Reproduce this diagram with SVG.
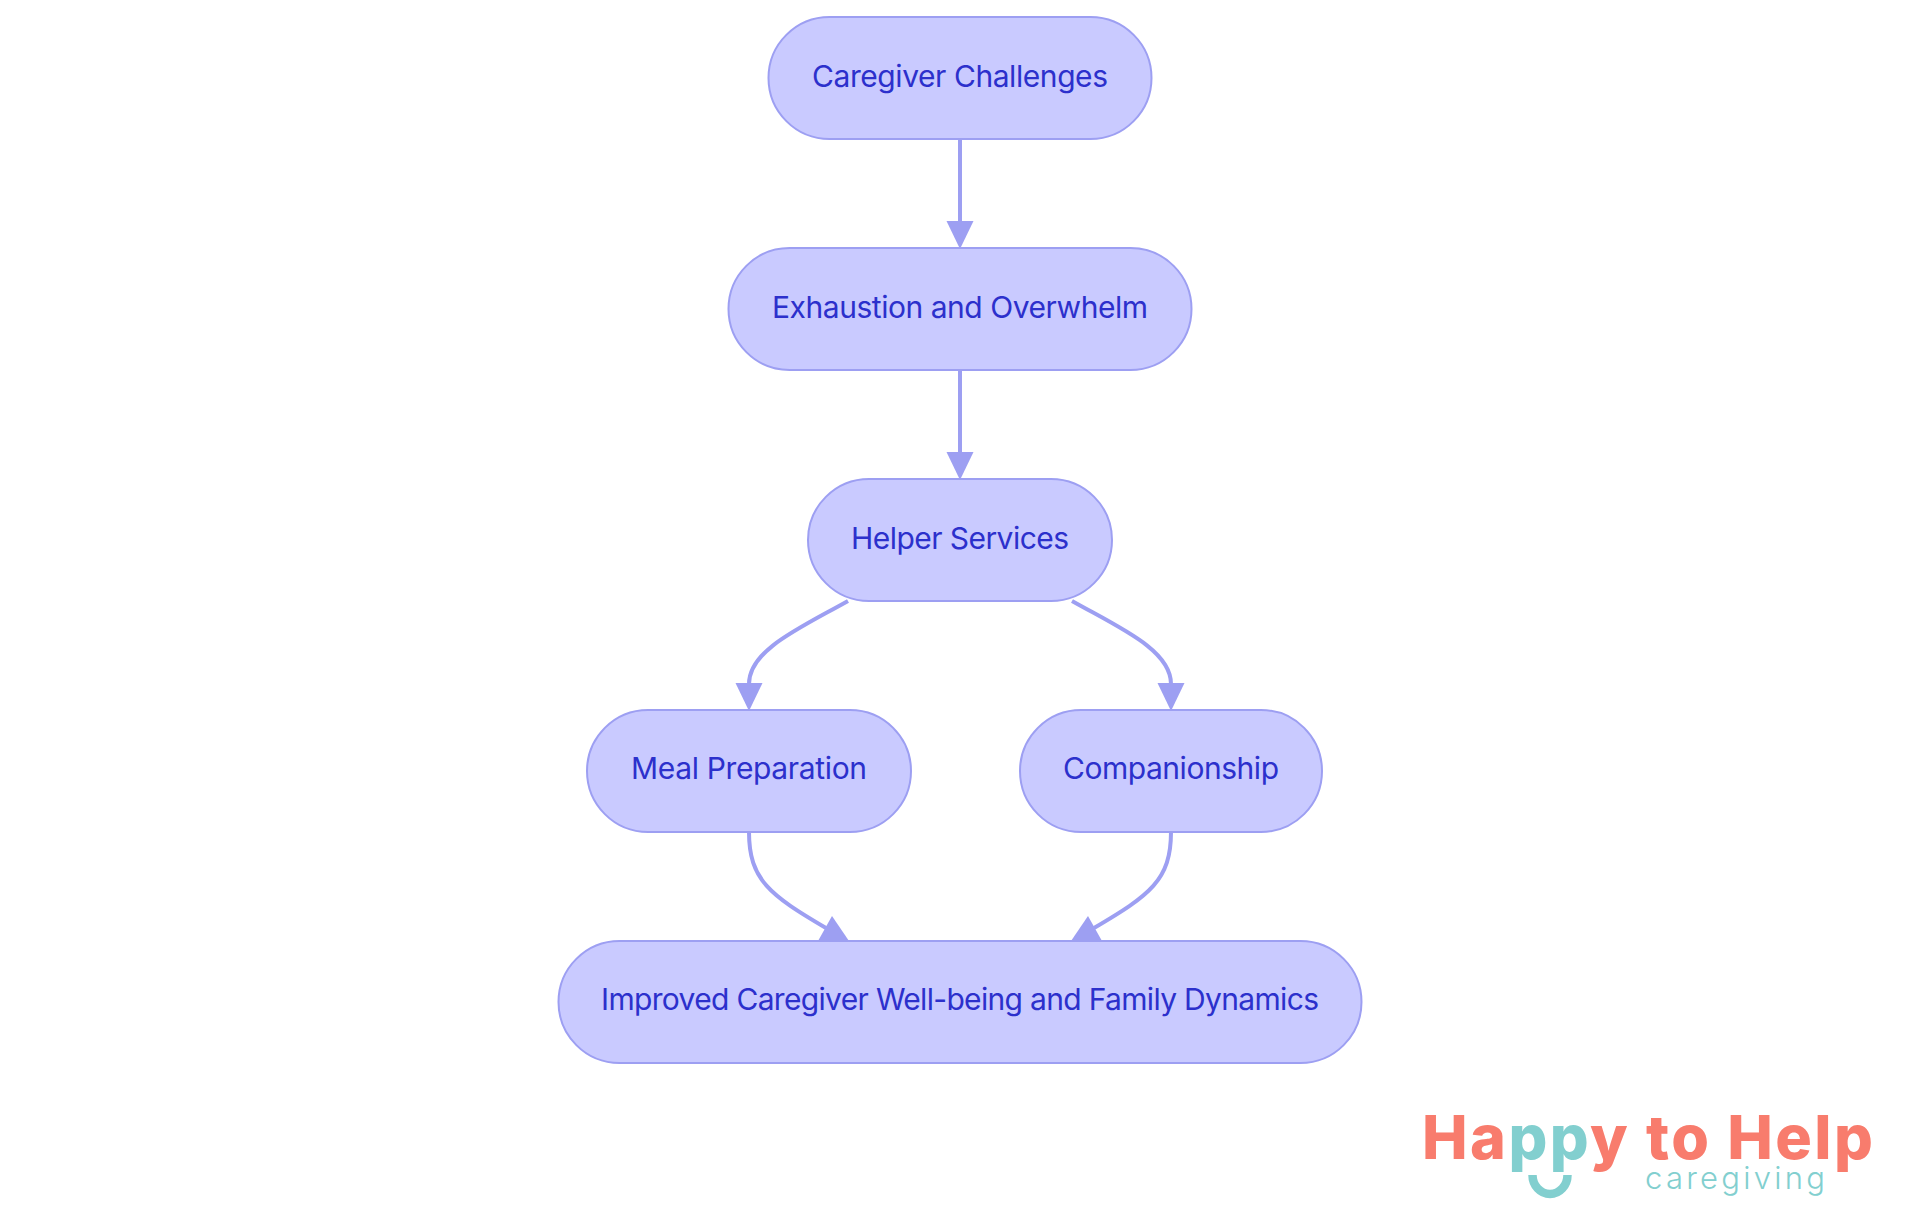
<svg xmlns="http://www.w3.org/2000/svg" width="1920" height="1215" viewBox="0 0 1920 1215">
<style>
.e{fill:none;stroke:#9d9ff2;stroke-width:4}
.h{fill:#9d9ff2}
.n{fill:#c9caff;stroke:#9d9ff2;stroke-width:2}
.t{font-family:Inter,"Noto Sans",sans-serif;font-size:30px;fill:#2c30cc;text-anchor:middle}
.l{font-family:Inter,"Noto Sans",sans-serif}
</style>
<rect width="1920" height="1215" fill="#fff"/>
<g id="connectors">
<path class="e" d="M960,139V222"/>
<polygon class="h" points="946.5,221 973.5,221 960,249"/>
<path class="e" d="M960,370V453"/>
<polygon class="h" points="946.5,452 973.5,452 960,480"/>
<path class="e" d="M848,601C800,628 749,650 749,684"/>
<polygon class="h" points="735.5,683 762.5,683 749,711"/>
<path class="e" d="M1072,601C1120,628 1171,650 1171,684"/>
<polygon class="h" points="1157.5,683 1184.5,683 1171,711"/>
<path class="e" d="M749,832C749,880 770,895 826,928"/>
<polygon class="h" points="832,916 818,941 849,941"/>
<path class="e" d="M1171,832C1171,880 1150,895 1094,928"/>
<polygon class="h" points="1088,916 1102,941 1071,941"/>
</g>
<g id="node-challenges"><rect class="n" x="768.5" y="17" width="383" height="122" rx="61"/><text class="t" x="960" y="87" textLength="296">Caregiver Challenges</text></g>
<g id="node-exhaustion"><rect class="n" x="728.5" y="248" width="463" height="122" rx="61"/><text class="t" x="960" y="318" textLength="376">Exhaustion and Overwhelm</text></g>
<g id="node-helper"><rect class="n" x="808" y="479" width="304" height="122" rx="61"/><text class="t" x="960" y="549" textLength="218">Helper Services</text></g>
<g id="node-meal"><rect class="n" x="587" y="710" width="324" height="122" rx="61"/><text class="t" x="749" y="779" textLength="236">Meal Preparation</text></g>
<g id="node-companionship"><rect class="n" x="1020" y="710" width="302" height="122" rx="61"/><text class="t" x="1171" y="779" textLength="216">Companionship</text></g>
<g id="node-improved"><rect class="n" x="558.5" y="941" width="803" height="122" rx="61"/><text class="t" x="960" y="1010" textLength="718">Improved Caregiver Well-being and Family Dynamics</text></g>
<g id="logo">
<text class="l" x="1422" y="1159" font-size="61" font-weight="800" fill="#f87c6d" textLength="451">Ha<tspan fill="#82cfcf">pp</tspan>y to Help</text>
<path d="M1532.5,1175a17.5,19 0 0 0 35,0" fill="none" stroke="#82cfcf" stroke-width="8.5"/>
<text class="l" x="1645" y="1189" font-size="31" font-weight="300" fill="#82cfcf" textLength="180">caregiving</text>
</g>
</svg>
